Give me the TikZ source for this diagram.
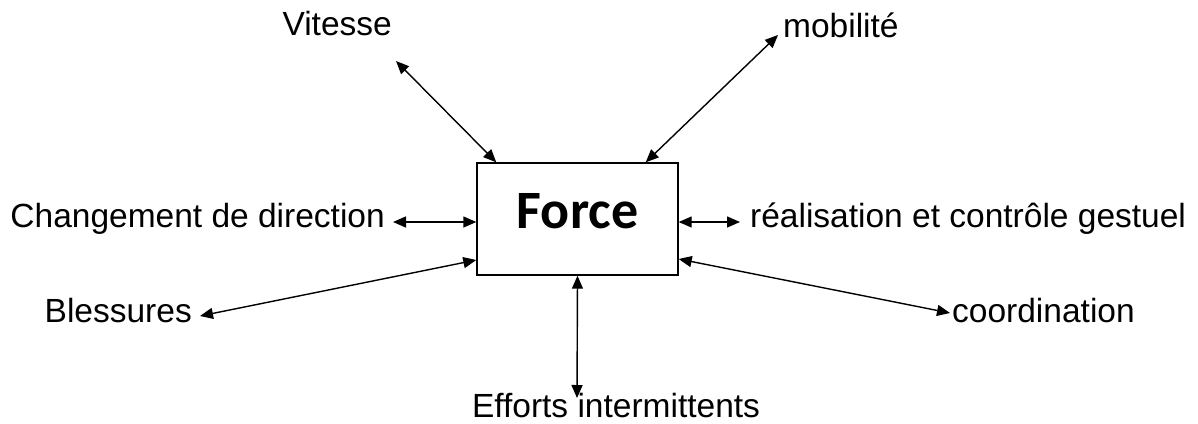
\documentclass[tikz,border=0pt]{standalone}
\usepackage{fontspec}
\setmainfont{Liberation Sans}
\newfontfamily\forcefont{Carlito}
\usetikzlibrary{arrows.meta,calc}

\tikzset{
  lbl/.style={font=\fontsize{33.5}{40}\selectfont, inner sep=0pt},
  forcebox/.style={draw, line width=1.4pt, minimum width=201pt, minimum height=112pt,
    font=\forcefont\bfseries\fontsize{54}{60}\selectfont, text height=35pt, text depth=17pt},
  link/.style={{Triangle[length=13pt,width=11pt]}-{Triangle[length=13pt,width=11pt]}, line width=1.4pt}
}

\begin{document}
\begin{tikzpicture}[x=1pt,y=-1pt]
  \useasboundingbox (0,0) rectangle (1198,423);

  % Central box
  \node[forcebox] (force) at (577.5,219) {Force};

  % Surrounding factors
  \node[lbl, anchor=base east] (vit) at (392,35)  {Vitesse};
  \node[lbl, anchor=base west] (mob) at (783,37)  {mobilité};
  \node[lbl, anchor=base east] (chg) at (385,227) {Changement de direction};
  \node[lbl, anchor=base west] (rea) at (750,227) {réalisation et contrôle gestuel};
  \node[lbl, anchor=base east] (ble) at (192,322) {Blessures};
  \node[lbl, anchor=base west] (coo) at (952,322) {coordination};
  \node[lbl, anchor=base]      (eff) at (616,417) {Efforts intermittents};

  % Two-way links
  \draw[link] ($(vit.base east)+(4,26)$)  -- ($(force.north west)+(20,0)$);
  \draw[link] ($(mob.base west)+(-5,-2)$) -- ($(force.north east)+(-33,0)$);
  \draw[link] ($(chg.base east)+(8,-5)$)  -- ($(force.west)+(0,3)$);
  \draw[link] ($(rea.base west)+(-10,-5)$) -- ($(force.east)+(0,3)$);
  \draw[link] ($(ble.base east)+(8,-6)$)  -- ($(force.west)+(0,41)$);
  \draw[link] ($(coo.base west)+(-2,-9)$) -- ($(force.east)+(0,40)$);
  \draw[link] ($(eff.base)+(-39,-19)$)    -- (force.south);
\end{tikzpicture}
\end{document}
